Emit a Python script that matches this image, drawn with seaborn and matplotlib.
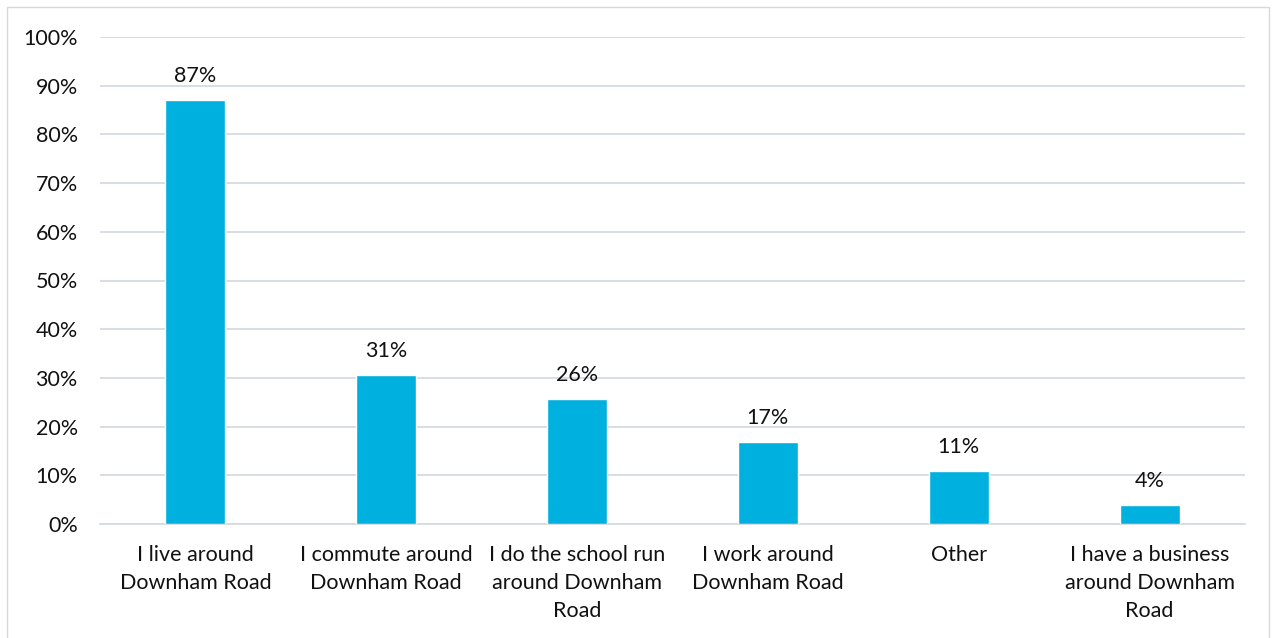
import matplotlib
matplotlib.use("Agg")
import matplotlib.pyplot as plt
import seaborn as sns
import pandas as pd
from matplotlib.ticker import FuncFormatter, MultipleLocator
from matplotlib.patches import Rectangle

categories = [
    "I live around\nDownham Road",
    "I commute around\nDownham Road",
    "I do the school run\naround Downham\nRoad",
    "I work around\nDownham Road",
    "Other",
    "I have a business\naround Downham\nRoad",
]
values = [87.1, 30.6, 25.7, 16.8, 10.9, 3.9]
value_labels = ["87%", "31%", "26%", "17%", "11%", "4%"]

sns.set_theme(style="white")
plt.rcParams["font.family"] = ["Lato", "DejaVu Sans"]

df = pd.DataFrame({"category": categories, "value": values})

fig = plt.figure(figsize=(12.74, 6.38), dpi=100)
ax = fig.add_axes([100 / 1274, 1 - 524 / 638, 1145 / 1274, 487 / 638])

sns.barplot(data=df, x="category", y="value", color="#00B0DE", width=0.315,
            saturation=1, ax=ax, zorder=3)

FS = 15.5
ax.set_ylim(0, 100)
ax.yaxis.set_major_locator(MultipleLocator(10))
ax.yaxis.set_major_formatter(FuncFormatter(lambda v, p: f"{v:.0f}%"))
ax.grid(axis="y", color="#D6DAE2", linewidth=1.3, zorder=0)
ax.set_axisbelow(True)
for s in ["top", "right", "left"]:
    ax.spines[s].set_visible(False)
ax.spines["bottom"].set_color("#D6DAE2")
ax.spines["bottom"].set_linewidth(1.3)
ax.set_xlabel("")
ax.set_ylabel("")
ax.tick_params(axis="both", length=0, labelsize=FS, colors="#111111")
ax.tick_params(axis="y", pad=16)
ax.tick_params(axis="x", pad=15)
for lbl in ax.get_xticklabels():
    lbl.set_linespacing(1.5)
    lbl.set_verticalalignment("top")

for i, (v, t) in enumerate(zip(values, value_labels)):
    ax.annotate(t, (i, v), xytext=(0, 10), textcoords="offset points",
                ha="center", va="bottom", fontsize=FS, color="#111111")

fig.patches.append(Rectangle((7 / 1274, -0.01), 1262 / 1274, 1 - 7 / 638 + 0.01,
                             transform=fig.transFigure, fill=False,
                             edgecolor="#D9D9D9", linewidth=1))

fig.savefig("out.png", dpi=100)
